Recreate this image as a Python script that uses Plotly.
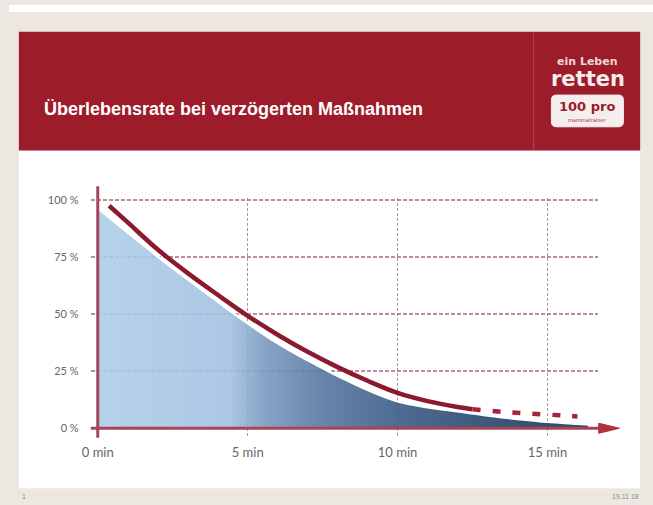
import plotly.graph_objects as go

W, H = 653, 505

# ---------------- data ----------------
title_text = "Überlebensrate bei verzögerten Maßnahmen"
x_tick_vals = [0, 5, 10, 15]
x_tick_text = ["0 min", "5 min", "10 min", "15 min"]
y_tick_vals = [0, 25, 50, 75, 100]
y_tick_text = ["0 %", "25 %", "50 %", "75 %", "100 %"]

# red curve (survival rate), solid part
curve_t = [0.38, 1, 2, 3, 4, 5, 6, 7, 8, 9, 10, 11, 12, 12.5]
curve_v = [97.5, 90.2, 78.3, 68.0, 58.5, 49.3, 41.0, 33.5, 26.8, 20.8, 15.5, 11.9, 9.3, 8.3]
# red curve, dashed continuation
dash_t = [12.5, 13.5, 14.5, 15.5, 16.0]
dash_v = [8.3, 7.2, 6.4, 5.6, 5.2]
# blue area
area_t = [0, 1, 2, 3, 4, 5, 6, 7, 8, 9, 10, 11, 12, 13, 14, 15, 16.35]
area_v = [96.5, 85.8, 75.3, 65.3, 55.5, 46.0, 37.3, 29.8, 23.0, 16.8, 11.8, 9.2, 7.4, 5.6, 4.1, 2.8, 1.6]


def px(x):
    return x / W


def py(y):
    return (H - y) / H


BEIGE = "#ece8e1"
RED = "#9c1c2a"
AXIS_RED = "#a3465a"
CURVE_RED = "#8c1a2f"
GRID = "rgba(170,100,125,0.75)"
X_TICK_FONT = dict(family="Lato, Liberation Sans Narrow, Arial", size=13, color="#666666")
Y_TICK_FONT = dict(family="Lato, Liberation Sans Narrow, Arial", size=11, color="#666666")

fig = go.Figure()

fig.add_trace(go.Scatter(
    x=area_t, y=area_v, mode="lines", fill="tozeroy",
    line=dict(color="white", width=2.5, shape="spline"),
    fillgradient=dict(
        type="horizontal",
        colorscale=[
            [0.0, "rgba(172,203,233,0.88)"],
            [0.27, "rgba(160,192,224,0.88)"],
            [0.34, "rgba(122,153,192,0.9)"],
            [0.46, "rgba(86,118,160,0.9)"],
            [0.62, "rgba(62,93,134,0.92)"],
            [0.8, "rgba(45,73,110,0.92)"],
            [1.0, "rgba(32,55,88,0.92)"],
        ],
    ),
    hoverinfo="skip", showlegend=False,
))
fig.add_trace(go.Scatter(
    x=curve_t, y=curve_v, mode="lines",
    line=dict(color=CURVE_RED, width=4.5, shape="spline"),
    showlegend=False,
))
fig.add_trace(go.Scatter(
    x=dash_t, y=dash_v, mode="lines",
    line=dict(color="#a3233a", width=4.5, dash="8px,12px", shape="spline"),
    showlegend=False,
))

x_px0, x_px1 = 83, 597
y_px_top, y_px_bot = 195, 437
x0_px, x_scale = 90, 30.4
y0_px, y_scale = 427.5, 2.305

fig.update_layout(
    width=W, height=H,
    margin=dict(l=0, r=0, t=0, b=0),
    paper_bgcolor=BEIGE,
    plot_bgcolor="rgba(0,0,0,0)",
    xaxis=dict(
        domain=[px(x_px0), px(x_px1)],
        range=[-(x0_px - x_px0) / x_scale, (x_px1 - x0_px) / x_scale],
        tickvals=x_tick_vals, ticktext=x_tick_text,
        showgrid=True, gridcolor=GRID, griddash="3px,2px", gridwidth=1.2,
        zeroline=False, showline=False,
        ticks="outside", ticklen=3, tickcolor="rgba(0,0,0,0)",
        tickfont=X_TICK_FONT,
    ),
    yaxis=dict(
        domain=[py(y_px_bot), py(y_px_top)],
        range=[-(y_px_bot - y0_px) / y_scale, 100 + (197 - y_px_top) / y_scale],
        tickvals=y_tick_vals, ticktext=y_tick_text,
        showgrid=True, gridcolor=GRID, griddash="4px,2px", gridwidth=1.5,
        zeroline=False, showline=False,
        ticks="outside", ticklen=9, tickcolor="rgba(0,0,0,0)",
        tickfont=Y_TICK_FONT,
    ),
)


def rounded_rect(x0, y0, x1, y1, r):
    X = lambda v: px(v)
    Y = lambda v: py(v)
    return (f"M {X(x0 + r)},{Y(y0)} L {X(x1 - r)},{Y(y0)} Q {X(x1)},{Y(y0)} {X(x1)},{Y(y0 + r)} "
            f"L {X(x1)},{Y(y1 - r)} Q {X(x1)},{Y(y1)} {X(x1 - r)},{Y(y1)} "
            f"L {X(x0 + r)},{Y(y1)} Q {X(x0)},{Y(y1)} {X(x0)},{Y(y1 - r)} "
            f"L {X(x0)},{Y(y0 + r)} Q {X(x0)},{Y(y0)} {X(x0 + r)},{Y(y0)} Z")


shapes = [
    # top white strip
    dict(type="rect", xref="paper", yref="paper", x0=0, x1=1, y0=py(7), y1=1,
         fillcolor="white", line_width=0, layer="below"),
    # white panel
    dict(type="rect", xref="paper", yref="paper", x0=px(10), x1=px(640), y0=py(488), y1=py(147),
         fillcolor="white", line_width=0, layer="below"),
    # red banner
    dict(type="rect", xref="paper", yref="paper", x0=px(10), x1=px(640), y0=py(147), y1=py(27),
         fillcolor=RED, line_width=0, layer="below"),
    # banner separator
    dict(type="line", xref="paper", yref="paper", x0=px(532), x1=px(532), y0=py(146), y1=py(28),
         line=dict(color="#b24a58", width=1), layer="below"),
    # logo box
    dict(type="path", xref="paper", yref="paper", path=rounded_rect(550, 91, 623, 123, 5),
         fillcolor="#f6eeee", line=dict(color="#f6eeee", width=1), layer="below"),
    # y axis line
    dict(type="line", xref="x", yref="paper", x0=0, x1=0, y0=py(437), y1=py(183),
         line=dict(color=AXIS_RED, width=3)),
    # x axis line
    dict(type="line", xref="paper", yref="y", x0=px(83), x1=px(604), y0=0, y1=0,
         line=dict(color=AXIS_RED, width=3)),
    # arrow head
    dict(type="path", xref="paper", yref="y",
         path=f"M {px(598)},{2.2} L {px(619)},0 L {px(598)},{-2.2} Z",
         fillcolor="#b0303f", line=dict(color="#b0303f", width=1)),
]
fig.update_layout(shapes=shapes)

ann = [
    dict(text="<b>" + title_text + "</b>", x=px(33), y=py(105), xanchor="left", yanchor="middle",
         font=dict(family="Liberation Sans, Arial", size=18, color="white")),
    dict(text="<b>ein Leben</b>", x=px(587), y=py(57), xanchor="center", yanchor="middle",
         font=dict(family="DejaVu Sans, Arial", size=11, color="#f0d6d6")),
    dict(text="<b>retten</b>", x=px(587), y=py(75), xanchor="center", yanchor="middle",
         font=dict(family="DejaVu Sans, Arial", size=21, color="#f6eeee")),
    dict(text="<b>100 pro</b>", x=px(586), y=py(103), xanchor="center", yanchor="middle",
         font=dict(family="DejaVu Sans, Arial", size=13, color=RED)),
    dict(text="mammatrainer", x=px(586), y=py(116), xanchor="center", yanchor="middle",
         font=dict(family="DejaVu Sans, Arial", size=5, color=RED)),
    dict(text="1", x=px(11), y=py(496), xanchor="left", yanchor="middle",
         font=dict(family="Liberation Sans, Arial", size=7, color="#8a8a8a")),
    dict(text="19.11.18", x=px(641), y=py(496), xanchor="right", yanchor="middle",
         font=dict(family="Liberation Sans, Arial", size=7, color="#8a8a8a")),
]
for a in ann:
    a.update(xref="paper", yref="paper", showarrow=False)
fig.update_layout(annotations=ann)

fig.write_html(
    "out.html",
    config={"displayModeBar": False},
    post_script=(
        "document.documentElement.style.margin='0';"
        "document.documentElement.style.overflow='hidden';"
        "document.body.style.margin='0';document.body.style.padding='0';"
        "document.body.style.overflow='hidden';"
        "var gd=document.getElementById('{plot_id}');"
        "gd.style.position='absolute';gd.style.left='0px';gd.style.top='0px';"
    ),
)
